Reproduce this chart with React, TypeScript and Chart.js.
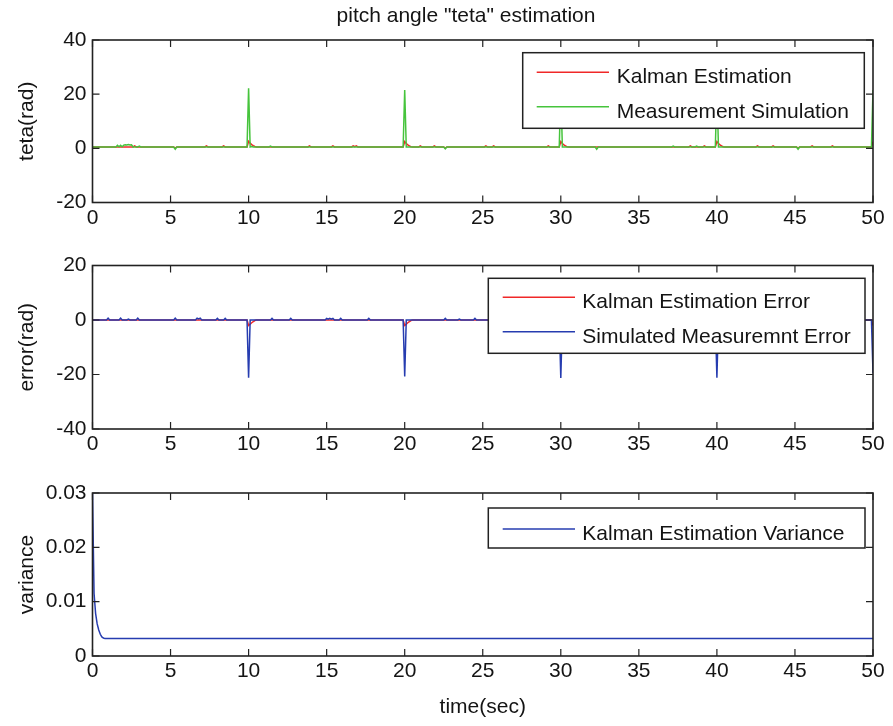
import React, { useEffect, useRef } from 'react';
import { Chart, registerables } from 'chart.js';

Chart.register(...registerables);

type Pt = [number, number];

// ---------- DATA ----------
const TIME_MIN = 0;
const TIME_MAX = 50;
const TIME_STEP = 5;

const TETA_RANGE: Pt = [-20, 40];
const TETA_STEP = 20;
const ERROR_RANGE: Pt = [-40, 20];
const ERROR_STEP = 20;
const VAR_RANGE: Pt = [0, 0.03];
const VAR_STEP = 0.01;

const MAIN_TITLE = 'pitch angle "teta" estimation';
const X_TITLE = 'time(sec)';
const Y_TITLES = ['teta(rad)', 'error(rad)', 'variance'];

const LEGEND_TOP = ['Kalman Estimation', 'Measurement Simulation'];
const LEGEND_MID = ['Kalman Estimation Error', 'Simulated Measuremnt Error'];
const LEGEND_BOT = ['Kalman Estimation Variance'];

// measured pitch angle (green)
const tetaMeasured: Pt[] = [
  [0, 0.5], [1.5, 0.5], [1.6, 1.1], [1.7, 0.6], [1.8, 1.1], [1.9, 0.6], [2.0, 1.2], [2.1, 1.3],
  [2.2, 1.2], [2.3, 1.4], [2.4, 1.2], [2.5, 1.3], [2.6, 0.5],
  [2.9, 0.5], [3.0, 0.8], [3.1, 0.5],
  [5.2, 0.5], [5.3, -0.3], [5.4, 0.5],
  [9.9, 0.5], [10.0, 22.2], [10.1, 0.5], [10.2, 0.7], [10.3, 0.5],
  [11.3, 0.5], [11.4, 0.8], [11.5, 0.5],
  [19.9, 0.5], [20.0, 21.5], [20.1, 0.5],
  [22.5, 0.5], [22.6, -0.2], [22.7, 0.5],
  [29.9, 0.5], [30.0, 22.0], [30.1, 0.5],
  [32.2, 0.5], [32.3, -0.3], [32.4, 0.5],
  [37.1, 0.5], [37.2, 0.8], [37.3, 0.5],
  [38.6, 0.5], [38.7, 0.8], [38.8, 0.5],
  [39.9, 0.5], [40.0, 22.0], [40.1, 0.5],
  [45.1, 0.5], [45.2, -0.3], [45.3, 0.5],
  [49.9, 0.5], [50.0, 21.5],
];

// Kalman estimate of pitch angle (red)
const tetaKalman: Pt[] = [
  [0, 0.5], [2.6, 0.5], [2.7, 0.9], [2.8, 0.5],
  [5.2, 0.5], [5.3, 0.1], [5.4, 0.5],
  [7.2, 0.5], [7.3, 0.9], [7.4, 0.5],
  [8.3, 0.5], [8.4, 0.9], [8.5, 0.5],
  [9.9, 0.5], [10.0, 2.6], [10.1, 1.9], [10.2, 1.4], [10.3, 1.0], [10.4, 0.7], [10.5, 0.5],
  [13.8, 0.5], [13.9, 0.9], [14.0, 0.5],
  [15.3, 0.5], [15.4, 0.9], [15.5, 0.5],
  [16.6, 0.5], [16.7, 0.9], [16.8, 0.6], [16.9, 0.9], [17.0, 0.5],
  [19.9, 0.5], [20.0, 2.5], [20.1, 1.8], [20.2, 1.3], [20.3, 0.9], [20.4, 0.6], [20.5, 0.5],
  [20.9, 0.5], [21.0, 0.9], [21.1, 0.5],
  [21.8, 0.5], [21.9, 0.9], [22.0, 0.5],
  [22.5, 0.5], [22.6, 0.1], [22.7, 0.5],
  [25.1, 0.5], [25.2, 0.9], [25.3, 0.5],
  [25.6, 0.5], [25.7, 0.9], [25.8, 0.5],
  [29.1, 0.5], [29.2, 0.9], [29.3, 0.5],
  [29.9, 0.5], [30.0, 2.5], [30.1, 1.8], [30.2, 1.3], [30.3, 0.9], [30.4, 0.6], [30.5, 0.5],
  [38.2, 0.5], [38.3, 0.9], [38.4, 0.5],
  [39.1, 0.5], [39.2, 0.9], [39.3, 0.5],
  [39.9, 0.5], [40.0, 2.5], [40.1, 1.8], [40.2, 1.3], [40.3, 0.9], [40.4, 0.6], [40.5, 0.5],
  [42.5, 0.5], [42.6, 0.9], [42.7, 0.5],
  [43.5, 0.5], [43.6, 0.9], [43.7, 0.5],
  [45.1, 0.5], [45.2, 0.0], [45.3, 0.5],
  [46.0, 0.5], [46.1, 0.9], [46.2, 0.5],
  [47.3, 0.5], [47.4, 0.9], [47.5, 0.5],
  [49.9, 0.5], [50.0, 2.4],
];

// Kalman estimation error (red)
const errorKalman: Pt[] = [
  [0, 0], [9.9, 0], [10.0, -2.0], [10.1, -1.5], [10.2, -1.0], [10.3, -0.6], [10.4, -0.2], [10.5, 0],
  [19.9, 0], [20.0, -2.0], [20.1, -1.5], [20.2, -1.0], [20.3, -0.6], [20.4, -0.2], [20.5, 0],
  [29.9, 0], [30.0, -2.0], [30.1, -1.5], [30.2, -1.0], [30.3, -0.6], [30.4, -0.2], [30.5, 0],
  [39.9, 0], [40.0, -2.0], [40.1, -1.5], [40.2, -1.0], [40.3, -0.6], [40.4, -0.2], [40.5, 0],
  [49.9, 0], [50.0, -2.0],
];

// simulated measurement error (blue)
const errorMeasured: Pt[] = [
  [0, 0], [0.9, 0], [1.0, 0.7], [1.1, 0], [1.7, 0], [1.8, 0.7], [1.9, 0],
  [2.2, 0], [2.3, 0.3], [2.4, 0], [2.8, 0], [2.9, 0.7], [3.0, 0],
  [5.2, 0], [5.3, 0.7], [5.4, 0], [6.6, 0], [6.7, 0.7], [6.8, 0.4], [6.9, 0.7], [7.0, 0],
  [7.9, 0], [8.0, 0.6], [8.1, 0], [8.4, 0], [8.5, 0.6], [8.6, 0],
  [9.9, 0], [10.0, -21.2], [10.1, 0],
  [11.4, 0], [11.5, 0.6], [11.6, 0], [12.6, 0], [12.7, 0.6], [12.8, 0],
  [14.9, 0], [15.0, 0.6], [15.1, 0.3], [15.2, 0.6], [15.3, 0.3], [15.4, 0.6], [15.5, 0],
  [15.8, 0], [15.9, 0.6], [16.0, 0], [17.6, 0], [17.7, 0.6], [17.8, 0],
  [19.9, 0], [20.0, -20.7], [20.1, 0],
  [22.5, 0], [22.6, 0.6], [22.7, 0], [23.4, 0], [23.5, 0.3], [23.6, 0],
  [24.4, 0], [24.5, 0.6], [24.6, 0],
  [29.9, 0], [30.0, -21.3], [30.1, 0],
  [39.9, 0], [40.0, -21.2], [40.1, 0],
  [49.9, 0], [50.0, -19.5],
];

// Kalman estimation variance (blue)
const varianceKalman: Pt[] = [
  [0, 0.03], [0.1, 0.0115], [0.2, 0.0078], [0.3, 0.0059], [0.4, 0.0048], [0.5, 0.004],
  [0.6, 0.0035], [0.7, 0.0033], [0.8, 0.0032], [50, 0.0032],
];

// ---------- STYLE ----------
const FONT_FAMILY = '"Liberation Sans", Arial, Helvetica, sans-serif';
const FONT_SIZE = 21;
const TXT = '#141414';
const AXIS = '#222222';
const RED = 'rgb(240,40,40)';
const GREEN = 'rgb(70,196,60)';
const BLUE = 'rgb(38,60,176)';
const W = 893;
const PLOT_LEFT = 92.5;
const PLOT_RIGHT_PAD = 20;

interface LegendSpec {
  box: [number, number, number, number];
  lineX: [number, number];
  textX: number;
  rowsY: number[];
  items: { label: string; color: string }[];
}

interface PanelSpec {
  canvasTop: number;
  canvasHeight: number;
  padTop: number;
  xAxisHeight: number;
  yRange: Pt;
  yStep: number;
  yTitle: string;
  yFormat?: (v: number) => string;
  datasets: { data: Pt[]; color: string }[];
  legend: LegendSpec;
  xTitle?: string;
  suptitle?: { text: string; x: number; y: number };
}

const toXY = (a: Pt[]) => a.map(([x, y]) => ({ x, y }));

function makeDecor(spec: PanelSpec) {
  return {
    id: 'matlabDecor',
    afterDraw(chart: any) {
      const { ctx, chartArea, scales } = chart;
      const { left, right, top, bottom } = chartArea;
      ctx.save();
      // inward ticks
      ctx.strokeStyle = AXIS;
      ctx.lineWidth = 1.2;
      const L = 7;
      ctx.beginPath();
      scales.x.ticks.forEach((t: any) => {
        const p = scales.x.getPixelForValue(t.value);
        ctx.moveTo(p, bottom);
        ctx.lineTo(p, bottom - L);
        ctx.moveTo(p, top);
        ctx.lineTo(p, top + L);
      });
      scales.y.ticks.forEach((t: any) => {
        const p = scales.y.getPixelForValue(t.value);
        ctx.moveTo(left, p);
        ctx.lineTo(left + L, p);
        ctx.moveTo(right, p);
        ctx.lineTo(right - L, p);
      });
      ctx.stroke();
      // axes box
      ctx.lineWidth = 1.6;
      ctx.strokeRect(left, top, right - left, bottom - top);

      // legend
      const lg = spec.legend;
      const [bx, by, bw, bh] = lg.box;
      ctx.fillStyle = '#ffffff';
      ctx.fillRect(bx, by, bw, bh);
      ctx.lineWidth = 1.5;
      ctx.strokeStyle = AXIS;
      ctx.strokeRect(bx, by, bw, bh);
      ctx.font = `${FONT_SIZE}px ${FONT_FAMILY}`;
      ctx.textAlign = 'left';
      ctx.textBaseline = 'alphabetic';
      lg.items.forEach((it, i) => {
        const y = lg.rowsY[i];
        ctx.strokeStyle = it.color;
        ctx.lineWidth = 1.4;
        ctx.beginPath();
        ctx.moveTo(lg.lineX[0], y);
        ctx.lineTo(lg.lineX[1], y);
        ctx.stroke();
        ctx.fillStyle = TXT;
        ctx.fillText(it.label, lg.textX, y + 11);
      });

      if (spec.suptitle) {
        ctx.fillStyle = TXT;
        ctx.textAlign = 'center';
        ctx.fillText(spec.suptitle.text, spec.suptitle.x, spec.suptitle.y);
      }
      ctx.restore();
    },
  };
}

function buildChart(canvas: HTMLCanvasElement, spec: PanelSpec) {
  const font = { family: FONT_FAMILY, size: FONT_SIZE, lineHeight: 1.2 };
  return new Chart(canvas, {
    type: 'line',
    data: {
      datasets: spec.datasets.map((d) => ({
        data: toXY(d.data),
        borderColor: d.color,
        backgroundColor: d.color,
        borderWidth: 1.5,
        pointRadius: 0,
        tension: 0,
        fill: false,
      })),
    },
    options: {
      animation: false,
      responsive: false,
      maintainAspectRatio: false,
      devicePixelRatio: 1,
      events: [],
      parsing: false as any,
      normalized: true,
      layout: { padding: { top: spec.padTop, right: PLOT_RIGHT_PAD, left: 0, bottom: 0 } },
      plugins: {
        legend: { display: false },
        title: { display: false },
        tooltip: { enabled: false },
      },
      scales: {
        x: {
          type: 'linear',
          min: TIME_MIN,
          max: TIME_MAX,
          afterFit: (s: any) => {
            s.height = spec.xAxisHeight;
          },
          grid: { display: false, drawTicks: false },
          border: { display: false },
          ticks: {
            stepSize: TIME_STEP,
            padding: 3,
            font,
            color: TXT,
            maxRotation: 0,
            autoSkip: false,
          },
          title: spec.xTitle
            ? { display: true, text: spec.xTitle, font, color: TXT, padding: { top: 0, bottom: 6 } }
            : { display: false },
        },
        y: {
          type: 'linear',
          min: spec.yRange[0],
          max: spec.yRange[1],
          afterFit: (s: any) => {
            s.width = PLOT_LEFT;
          },
          grid: { display: false, drawTicks: false },
          border: { display: false },
          ticks: {
            stepSize: spec.yStep,
            padding: 6,
            font,
            color: TXT,
            autoSkip: false,
            callback: (v: any) => (spec.yFormat ? spec.yFormat(Number(v)) : String(v)),
          },
          title: { display: true, text: spec.yTitle, font, color: TXT, padding: { top: 15, bottom: 0 } },
        },
      },
    } as any,
    plugins: [makeDecor(spec)],
  });
}

const PANELS: PanelSpec[] = [
  {
    canvasTop: 0,
    canvasHeight: 235,
    padTop: 40,
    xAxisHeight: 32.5,
    yRange: TETA_RANGE,
    yStep: TETA_STEP,
    yTitle: Y_TITLES[0],
    datasets: [
      { data: tetaMeasured, color: GREEN },
      { data: tetaKalman, color: RED },
    ],
    legend: {
      box: [522.7, 52.7, 341.6, 75.6],
      lineX: [536.7, 609],
      textX: 616.7,
      rowsY: [72.3, 106.7],
      items: [
        { label: LEGEND_TOP[0], color: RED },
        { label: LEGEND_TOP[1], color: GREEN },
      ],
    },
    suptitle: { text: MAIN_TITLE, x: 466, y: 22 },
  },
  {
    canvasTop: 235,
    canvasHeight: 230,
    padTop: 30.5,
    xAxisHeight: 36,
    yRange: ERROR_RANGE,
    yStep: ERROR_STEP,
    yTitle: Y_TITLES[1],
    datasets: [
      { data: errorMeasured, color: BLUE },
      { data: errorKalman, color: RED },
    ],
    legend: {
      box: [488.3, 43.3, 376.7, 75],
      lineX: [502.7, 575],
      textX: 582.3,
      rowsY: [62.3, 96.7],
      items: [
        { label: LEGEND_MID[0], color: RED },
        { label: LEGEND_MID[1], color: BLUE },
      ],
    },
  },
  {
    canvasTop: 465,
    canvasHeight: 261,
    padTop: 28,
    xAxisHeight: 70,
    yRange: VAR_RANGE,
    yStep: VAR_STEP,
    yTitle: Y_TITLES[2],
    yFormat: (v) => String(Number(v.toFixed(2))),
    datasets: [{ data: varianceKalman, color: BLUE }],
    legend: {
      box: [488.3, 43, 376.7, 40],
      lineX: [502.7, 575],
      textX: 582.3,
      rowsY: [64],
      items: [{ label: LEGEND_BOT[0], color: BLUE }],
    },
    xTitle: X_TITLE,
  },
];

export default function App() {
  const r0 = useRef<HTMLCanvasElement>(null);
  const r1 = useRef<HTMLCanvasElement>(null);
  const r2 = useRef<HTMLCanvasElement>(null);
  const refs = [r0, r1, r2];

  useEffect(() => {
    const charts = refs.map((r, i) => buildChart(r.current as HTMLCanvasElement, PANELS[i]));
    return () => charts.forEach((c) => c.destroy());
  }, []);

  return (
    <div style={{ position: 'absolute', left: 0, top: 0, width: W, height: 726, background: '#fff', overflow: 'hidden' }}>
      {PANELS.map((p, i) => (
        <canvas
          key={i}
          ref={refs[i]}
          width={W}
          height={p.canvasHeight}
          style={{ position: 'absolute', left: 0, top: p.canvasTop, width: W, height: p.canvasHeight, display: 'block' }}
        />
      ))}
    </div>
  );
}
